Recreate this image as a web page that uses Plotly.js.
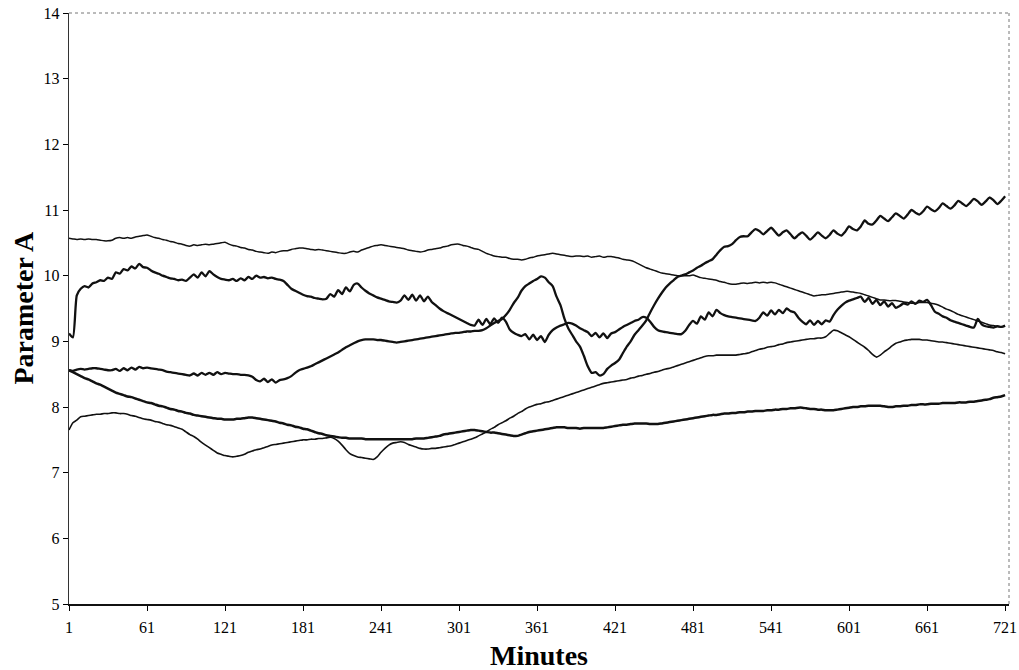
<!DOCTYPE html>
<html>
<head>
<meta charset="utf-8">
<script src="https://cdn.plot.ly/plotly-3.0.1.min.js"></script>
<style>
  html, body { margin: 0; padding: 0; background: #fff; }
  #chart { width: 1019px; height: 670px; }
</style>
</head>
<body>
<div id="chart"></div>
<script>
// Sampling grid: every 3 minutes from 1 to 721
const minutes = Array.from({length: 241}, (_, i) => 1 + 3 * i);
const xTickVals = [1, 61, 121, 181, 241, 301, 361, 421, 481, 541, 601, 661, 721];
const xTickText = ["1", "61", "121", "181", "241", "301", "361", "421", "481", "541", "601", "661", "721"];
const yTickVals = [5, 6, 7, 8, 9, 10, 11, 12, 13, 14];

// Series A (thin, top line)
const seriesA = [
10.57,10.56,10.55,10.56,10.55,10.56,10.55,10.55,10.54,10.53,10.53,10.54,10.57,10.58,10.57,10.58,10.57,10.59,10.60,10.61,
10.62,10.60,10.58,10.57,10.55,10.54,10.52,10.51,10.49,10.48,10.46,10.45,10.47,10.46,10.47,10.48,10.47,10.48,10.49,10.50,
10.51,10.48,10.46,10.45,10.43,10.42,10.40,10.39,10.37,10.36,10.35,10.34,10.36,10.35,10.37,10.38,10.38,10.40,10.41,10.42,
10.42,10.41,10.40,10.39,10.40,10.39,10.38,10.37,10.36,10.35,10.34,10.34,10.36,10.37,10.36,10.39,10.41,10.43,10.45,10.46,
10.47,10.46,10.45,10.44,10.43,10.42,10.41,10.39,10.38,10.37,10.36,10.37,10.39,10.40,10.41,10.42,10.44,10.45,10.47,10.48,
10.48,10.46,10.45,10.43,10.41,10.40,10.37,10.34,10.32,10.30,10.29,10.28,10.28,10.26,10.25,10.25,10.24,10.25,10.27,10.28,
10.30,10.31,10.32,10.33,10.34,10.33,10.32,10.31,10.30,10.29,10.30,10.30,10.29,10.30,10.28,10.29,10.30,10.28,10.29,10.29,
10.28,10.27,10.25,10.24,10.23,10.21,10.18,10.15,10.12,10.10,10.08,10.06,10.04,10.03,10.02,10.01,10.00,10.00,10.00,10.00,
10.01,9.99,9.97,9.96,9.95,9.94,9.93,9.91,9.90,9.88,9.87,9.87,9.88,9.89,9.88,9.89,9.90,9.89,9.90,9.89,
9.90,9.89,9.87,9.85,9.83,9.81,9.79,9.77,9.75,9.73,9.71,9.69,9.70,9.71,9.71,9.72,9.73,9.74,9.75,9.76,
9.76,9.75,9.74,9.73,9.71,9.69,9.67,9.65,9.63,9.63,9.62,9.62,9.62,9.61,9.60,9.59,9.58,9.58,9.59,9.59,
9.59,9.58,9.57,9.55,9.52,9.49,9.47,9.44,9.41,9.39,9.37,9.35,9.33,9.31,9.29,9.27,9.25,9.24,9.23,9.22,
9.23];

// Series B (thick, zigzag, starts ~9.1)
const seriesB = [
9.12,9.06,9.70,9.80,9.84,9.82,9.88,9.90,9.93,9.92,9.97,9.95,10.05,10.03,10.10,10.08,10.14,10.11,10.18,10.13,
10.12,10.08,10.05,10.03,10.00,9.98,9.96,9.95,9.93,9.94,9.92,9.97,10.02,9.97,10.05,9.99,10.07,10.02,9.98,9.95,
9.94,9.93,9.95,9.92,9.96,9.93,9.98,9.95,10.00,9.97,9.98,9.96,9.97,9.95,9.94,9.92,9.86,9.80,9.77,9.74,
9.71,9.69,9.68,9.66,9.65,9.64,9.65,9.72,9.68,9.78,9.72,9.82,9.76,9.86,9.88,9.82,9.77,9.73,9.70,9.67,
9.65,9.63,9.61,9.60,9.59,9.62,9.70,9.63,9.71,9.62,9.70,9.61,9.68,9.60,9.55,9.50,9.46,9.43,9.40,9.37,
9.34,9.31,9.28,9.25,9.24,9.33,9.25,9.34,9.26,9.35,9.28,9.36,9.30,9.18,9.13,9.10,9.08,9.11,9.03,9.10,
9.02,9.08,8.99,9.10,9.17,9.21,9.24,9.26,9.28,9.27,9.24,9.20,9.17,9.14,9.08,9.13,9.06,9.12,9.05,9.12,
9.14,9.18,9.22,9.25,9.28,9.31,9.33,9.37,9.36,9.30,9.22,9.17,9.15,9.14,9.13,9.12,9.11,9.11,9.16,9.25,
9.31,9.27,9.38,9.33,9.44,9.38,9.48,9.43,9.40,9.38,9.37,9.36,9.35,9.34,9.33,9.32,9.31,9.36,9.44,9.39,
9.47,9.41,9.48,9.43,9.50,9.46,9.44,9.36,9.30,9.26,9.32,9.25,9.31,9.26,9.32,9.30,9.40,9.48,9.54,9.59,
9.62,9.64,9.66,9.68,9.60,9.66,9.57,9.63,9.55,9.61,9.53,9.58,9.51,9.54,9.58,9.56,9.61,9.57,9.62,9.60,
9.63,9.55,9.45,9.42,9.38,9.36,9.32,9.30,9.28,9.26,9.24,9.22,9.21,9.34,9.26,9.23,9.22,9.21,9.23,9.22,
9.24];

// Series C (thick, flat then peak at 361, then rising wavy line)
const seriesC = [
8.56,8.55,8.57,8.58,8.57,8.58,8.59,8.59,8.58,8.57,8.56,8.56,8.58,8.55,8.59,8.56,8.60,8.57,8.61,8.59,
8.60,8.59,8.58,8.57,8.56,8.54,8.53,8.52,8.51,8.50,8.49,8.48,8.51,8.48,8.52,8.49,8.52,8.49,8.53,8.50,
8.52,8.51,8.50,8.50,8.49,8.49,8.48,8.46,8.41,8.39,8.43,8.38,8.42,8.37,8.41,8.42,8.44,8.47,8.52,8.56,
8.58,8.60,8.62,8.65,8.68,8.71,8.74,8.77,8.80,8.83,8.87,8.91,8.94,8.97,9.00,9.02,9.03,9.03,9.03,9.02,
9.02,9.01,9.00,8.99,8.98,8.99,9.00,9.01,9.02,9.03,9.04,9.05,9.06,9.07,9.08,9.09,9.10,9.11,9.12,9.13,
9.13,9.14,9.15,9.15,9.16,9.16,9.17,9.20,9.24,9.28,9.31,9.34,9.40,9.48,9.58,9.66,9.77,9.84,9.88,9.92,
9.95,9.99,9.97,9.90,9.84,9.68,9.55,9.35,9.20,9.10,9.00,8.92,8.78,8.62,8.52,8.53,8.48,8.50,8.58,8.63,
8.67,8.72,8.82,8.92,9.00,9.10,9.17,9.24,9.32,9.44,9.55,9.65,9.74,9.82,9.88,9.93,9.98,10.00,10.02,10.05,
10.08,10.12,10.15,10.19,10.22,10.25,10.32,10.39,10.44,10.45,10.48,10.54,10.59,10.60,10.60,10.66,10.71,10.68,10.63,10.68,
10.73,10.67,10.61,10.66,10.69,10.63,10.57,10.62,10.66,10.61,10.55,10.60,10.66,10.61,10.57,10.62,10.69,10.64,10.61,10.67,
10.75,10.71,10.69,10.75,10.84,10.79,10.78,10.84,10.91,10.87,10.83,10.89,10.95,10.91,10.87,10.93,11.00,10.96,10.93,10.98,
11.05,11.01,10.98,11.03,11.10,11.06,11.02,11.07,11.14,11.10,11.06,11.11,11.17,11.13,11.08,11.13,11.19,11.15,11.09,11.14,
11.21];

// Series D (thick, falls from 8.55 then slowly rises)
const seriesD = [
8.56,8.53,8.50,8.47,8.44,8.42,8.39,8.36,8.34,8.31,8.28,8.25,8.22,8.20,8.18,8.16,8.15,8.13,8.11,8.09,
8.07,8.06,8.04,8.02,8.01,7.99,7.97,7.96,7.94,7.93,7.91,7.90,7.88,7.87,7.86,7.85,7.84,7.83,7.82,7.82,
7.81,7.81,7.81,7.82,7.82,7.83,7.84,7.84,7.83,7.82,7.81,7.80,7.79,7.78,7.76,7.75,7.73,7.72,7.70,7.69,
7.67,7.66,7.64,7.62,7.60,7.59,7.57,7.56,7.55,7.54,7.53,7.53,7.52,7.52,7.52,7.52,7.51,7.51,7.51,7.51,
7.51,7.51,7.51,7.51,7.51,7.51,7.51,7.51,7.51,7.52,7.52,7.52,7.53,7.54,7.55,7.56,7.58,7.59,7.60,7.61,
7.62,7.63,7.64,7.65,7.65,7.64,7.63,7.62,7.61,7.61,7.60,7.59,7.58,7.57,7.56,7.56,7.58,7.60,7.62,7.63,
7.64,7.65,7.66,7.67,7.68,7.69,7.69,7.69,7.68,7.68,7.68,7.67,7.68,7.68,7.68,7.68,7.68,7.68,7.69,7.70,
7.71,7.72,7.73,7.73,7.74,7.75,7.75,7.75,7.75,7.74,7.74,7.74,7.75,7.76,7.77,7.78,7.79,7.80,7.81,7.82,
7.83,7.84,7.85,7.86,7.87,7.88,7.88,7.89,7.90,7.90,7.91,7.91,7.92,7.92,7.93,7.93,7.94,7.94,7.94,7.95,
7.95,7.96,7.96,7.97,7.97,7.98,7.98,7.99,7.99,7.98,7.97,7.97,7.96,7.96,7.95,7.95,7.95,7.96,7.97,7.98,
7.99,8.00,8.00,8.01,8.01,8.02,8.02,8.02,8.02,8.01,8.00,8.00,8.01,8.01,8.02,8.02,8.03,8.03,8.04,8.04,
8.04,8.05,8.05,8.05,8.06,8.06,8.06,8.06,8.07,8.07,8.07,8.08,8.08,8.09,8.10,8.11,8.12,8.14,8.15,8.16,
8.18];

// Series E (thin, bottom start 7.65)
const seriesE = [
7.65,7.76,7.80,7.85,7.86,7.87,7.88,7.89,7.89,7.90,7.90,7.91,7.91,7.90,7.90,7.89,7.87,7.86,7.84,7.82,
7.81,7.80,7.78,7.77,7.75,7.73,7.72,7.70,7.68,7.66,7.62,7.58,7.55,7.51,7.46,7.42,7.38,7.34,7.30,7.28,
7.26,7.25,7.24,7.25,7.26,7.28,7.31,7.33,7.35,7.36,7.38,7.40,7.42,7.43,7.44,7.45,7.46,7.47,7.48,7.49,
7.50,7.50,7.51,7.51,7.52,7.52,7.53,7.54,7.52,7.48,7.42,7.35,7.29,7.26,7.24,7.23,7.22,7.21,7.20,7.24,
7.31,7.37,7.42,7.45,7.46,7.47,7.46,7.43,7.41,7.39,7.37,7.36,7.36,7.37,7.37,7.38,7.39,7.40,7.41,7.43,
7.45,7.47,7.49,7.51,7.53,7.56,7.59,7.62,7.66,7.69,7.73,7.76,7.79,7.83,7.86,7.90,7.93,7.97,8.00,8.02,
8.04,8.05,8.07,8.08,8.10,8.12,8.14,8.16,8.18,8.20,8.22,8.24,8.26,8.28,8.30,8.32,8.34,8.36,8.37,8.38,
8.39,8.40,8.41,8.42,8.44,8.45,8.47,8.48,8.50,8.51,8.53,8.54,8.56,8.58,8.59,8.61,8.63,8.65,8.67,8.69,
8.71,8.73,8.75,8.77,8.78,8.78,8.79,8.79,8.79,8.79,8.79,8.79,8.80,8.81,8.82,8.84,8.86,8.88,8.89,8.91,
8.92,8.93,8.95,8.96,8.98,8.99,9.00,9.01,9.02,9.03,9.04,9.04,9.05,9.05,9.07,9.12,9.17,9.16,9.13,9.10,
9.07,9.03,8.99,8.95,8.91,8.86,8.80,8.76,8.79,8.84,8.88,8.93,8.97,8.99,9.01,9.02,9.03,9.03,9.03,9.02,
9.02,9.01,9.00,8.99,8.99,8.98,8.97,8.96,8.95,8.94,8.93,8.92,8.91,8.90,8.89,8.88,8.87,8.86,8.84,8.83,
8.81];

const serif = "'Liberation Serif', 'Times New Roman', serif";

function line(y, w) {
  return {
    type: 'scatter', mode: 'lines', x: minutes, y: y,
    line: {color: '#111', width: w, shape: 'spline', smoothing: 0.6},
    hoverinfo: 'skip', showlegend: false
  };
}

const data = [
  line(seriesA, 1.5),
  line(seriesB, 2.3),
  line(seriesC, 2.3),
  line(seriesD, 2.5),
  line(seriesE, 1.6)
];

const layout = {
  width: 1019, height: 670,
  margin: {l: 69, r: 10, t: 13, b: 66, pad: 0},
  paper_bgcolor: '#fff', plot_bgcolor: '#fff',
  showlegend: false,
  font: {family: serif, size: 16, color: '#000'},
  xaxis: {
    range: [1, 724], tickvals: xTickVals, ticktext: xTickText,
    ticks: 'outside', ticklen: 5, tickwidth: 1, tickcolor: '#000',
    ticklabelstandoff: 3,
    showline: true, linecolor: '#111', linewidth: 1.5,
    showgrid: false, zeroline: false,
    tickfont: {family: serif, size: 16, color: '#000'}
  },
  yaxis: {
    range: [5, 14], tickvals: yTickVals,
    ticks: 'outside', ticklen: 5, tickwidth: 1, tickcolor: '#000',
    showline: true, linecolor: '#333', linewidth: 1.2,
    showgrid: false, zeroline: false,
    tickfont: {family: serif, size: 16, color: '#000'}
  },
  shapes: [
    {type: 'line', xref: 'paper', yref: 'paper', x0: 0, x1: 1, y0: 1, y1: 1,
     line: {color: '#777', width: 1, dash: 'dot'}},
    {type: 'line', xref: 'paper', yref: 'paper', x0: 1, x1: 1, y0: 0, y1: 1,
     line: {color: '#777', width: 1, dash: 'dot'}}
  ],
  annotations: [
    {text: '<b>Minutes</b>', xref: 'paper', yref: 'paper', x: 0.5, y: 0,
     yshift: -51, xanchor: 'center', yanchor: 'middle', showarrow: false,
     font: {family: serif, size: 28, color: '#000'}},
    {text: '<b>Parameter A</b>', xref: 'paper', yref: 'paper', x: 0, y: 0.5,
     xshift: -46, yshift: 0, xanchor: 'center', yanchor: 'middle', textangle: -90, showarrow: false,
     font: {family: serif, size: 28, color: '#000'}}
  ]
};

Plotly.newPlot('chart', data, layout, {displayModeBar: false, staticPlot: true});
</script>
</body>
</html>
